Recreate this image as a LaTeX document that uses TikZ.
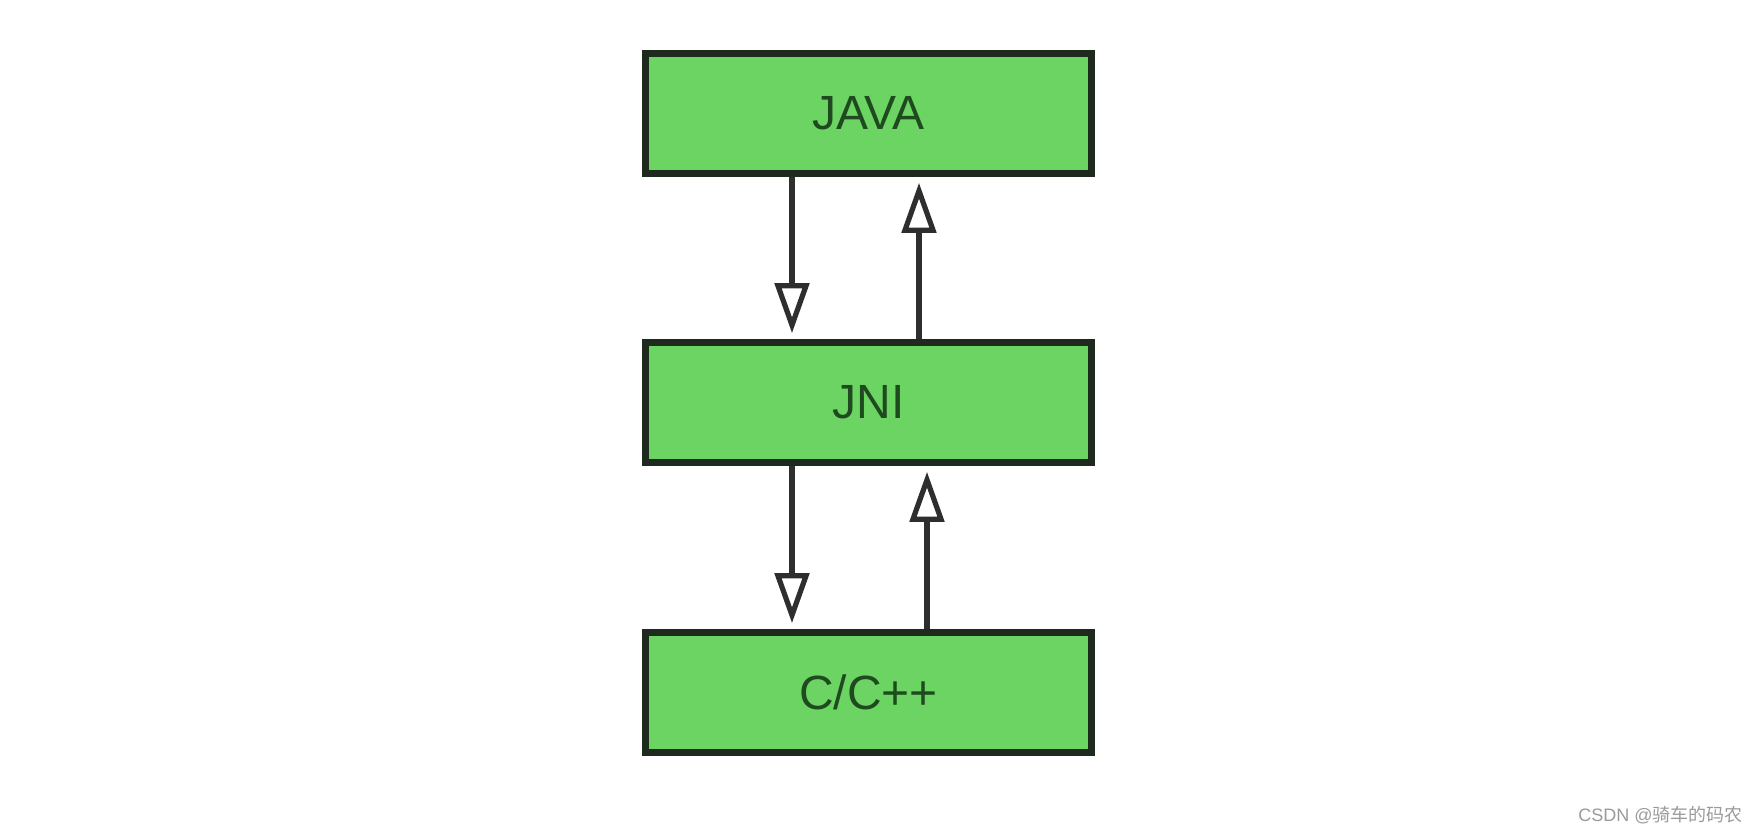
\documentclass[tikz,border=0pt]{standalone}
\usepackage{fontspec}
\setmainfont{Liberation Sans}
\newfontfamily\cjk{Noto Sans CJK SC}
\usepackage{xcolor}
\usepackage{tikz}
\usetikzlibrary{arrows.meta}
\definecolor{boxfill}{HTML}{6BD462}
\definecolor{boxedge}{HTML}{1E2A1E}
\definecolor{boxtext}{HTML}{1F4A1F}
\definecolor{wire}{HTML}{2E2E2E}
\definecolor{mark}{HTML}{9A9A9A}
\tikzset{
  layer/.style={draw=boxedge, fill=boxfill, line width=3.3pt, minimum width=223pt,
    minimum height=60pt, inner sep=0pt, text=boxtext, font=\fontsize{24}{28}\selectfont},
  flow/.style={draw=wire, line width=2.8pt, shorten >=3pt,
    -{Triangle[open, length=25pt, width=17pt, line width=2.6pt]}},
  wmark/.style={text=mark, font=\fontsize{9}{11}\selectfont, anchor=east, inner sep=0pt},
}

\begin{document}
\begin{tikzpicture}[x=0.5pt, y=-0.5pt]
  \useasboundingbox (0,0) rectangle (1758,835);
  \node[layer] (java) at (868.5,113.5) {JAVA};
  \node[layer] (jni)  at (868.5,402.5) {JNI};
  \node[layer] (cpp)  at (868.5,692.5) {C/C++};
  % calls down and returns up
  \draw[flow] ([xshift=-38.25pt]java.south) -- ([xshift=-38.25pt]jni.north);
  \draw[flow] ([xshift=25.25pt]jni.north) -- ([xshift=25.25pt]java.south);
  \draw[flow] ([xshift=-38.25pt]jni.south) -- ([xshift=-38.25pt]cpp.north);
  \draw[flow] ([xshift=29.25pt]cpp.north) -- ([xshift=29.25pt]jni.south);
  \node[wmark] (csdn) at (1743,815) {CSDN @{\cjk 骑车的码农}};
\end{tikzpicture}
\end{document}
